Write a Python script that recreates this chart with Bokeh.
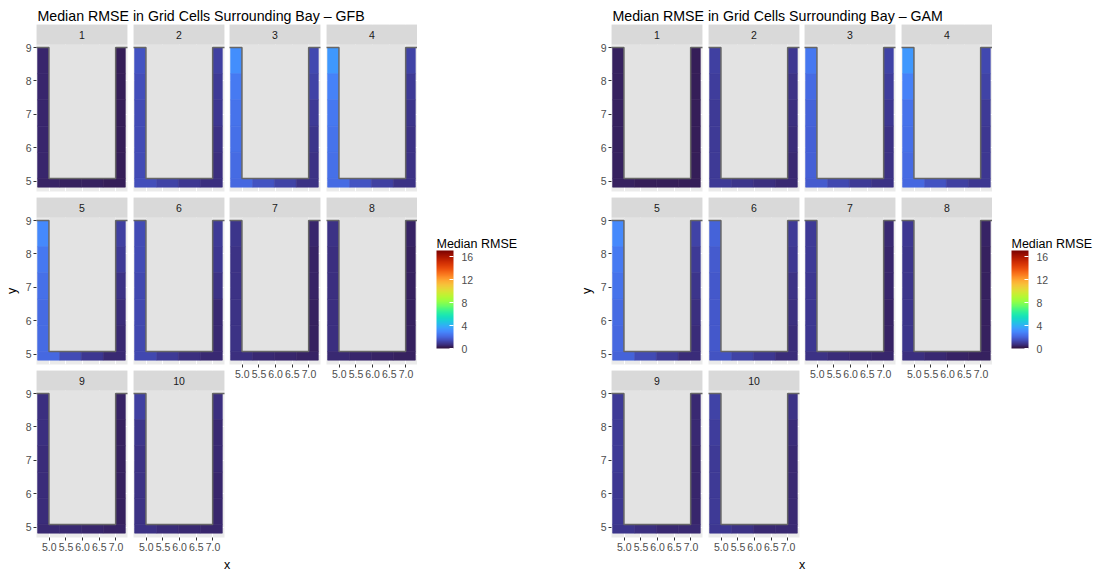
from bokeh.plotting import figure
from bokeh.models import (Range1d, FixedTicker, LinearColorMapper, ColorBar,
                          ColumnDataSource, PrintfTickFormatter, Grid)
from bokeh.layouts import row, column
from bokeh.palettes import Turbo256
from bokeh.embed import file_html
from bokeh.resources import INLINE
from bokeh.core.properties import value

# ---------------- data ----------------
TITLES = ["Median RMSE in Grid Cells Surrounding Bay \u2013 GFB",
          "Median RMSE in Grid Cells Surrounding Bay \u2013 GAM"]
FACETS = list(range(1, 11))
X_TICKS = [5.0, 5.5, 6.0, 6.5, 7.0]
Y_TICKS = [5, 6, 7, 8, 9]
CBAR_TICKS = [0, 4, 8, 12, 16]
LEGEND_TITLE = "Median RMSE"
RMSE_LOW, RMSE_HIGH = 0.0, 17.1

# grid-cell geometry (lon / lat of cells around the bay)
LEFT_COL_X = [4.65, 4.99]
RIGHT_COL_X = [6.99, 7.28]
COL_Y_EDGES = [9.0, 8.22, 7.44, 6.65, 5.87, 5.09]
BOTTOM_Y = [4.83, 5.09]
BOTTOM_X_EDGES = [4.65, 5.31, 5.96, 6.62, 7.28]
# bay outline
BAY_X = [4.3, 4.99, 4.99, 6.99, 6.99, 7.7]
BAY_Y = [9.0, 9.0, 5.09, 5.09, 9.0, 9.0]

# median RMSE per facet: left column (top->bottom), bottom row (left->right),
# right column (top->bottom)
gfb_left = [[0.5, 0.5, 0.5, 0.5, 0.5], [1.55, 1.45, 1.4, 1.35, 1.35],
            [3.1, 2.6, 2.4, 2.3, 2.2], [3.4, 2.8, 2.5, 2.4, 2.3],
            [3.0, 2.5, 2.3, 2.2, 2.2], [1.4, 1.35, 1.3, 1.3, 1.3],
            [0.85, 0.8, 0.8, 0.8, 0.8], [0.75, 0.7, 0.7, 0.7, 0.7],
            [0.7, 0.7, 0.65, 0.65, 0.65], [1.1, 0.85, 0.8, 0.8, 0.8]]
gfb_bottom = [[0.45, 0.4, 0.35, 0.3], [1.45, 1.15, 0.9, 0.7],
              [2.1, 1.6, 1.2, 0.8], [2.2, 1.6, 1.1, 0.8],
              [2.1, 1.4, 0.9, 0.55], [1.3, 1.0, 0.7, 0.55],
              [0.7, 0.6, 0.5, 0.45], [0.6, 0.5, 0.45, 0.4],
              [0.6, 0.55, 0.5, 0.45], [0.75, 0.65, 0.55, 0.5]]
gfb_right = [[0.3, 0.3, 0.3, 0.3, 0.3], [1.1, 1.0, 0.9, 0.8, 0.7],
             [1.3, 1.2, 1.0, 0.85, 0.8], [1.15, 1.0, 0.85, 0.8, 0.75],
             [1.1, 0.95, 0.8, 0.65, 0.55], [1.0, 0.9, 0.75, 0.6, 0.55],
             [0.5, 0.45, 0.45, 0.4, 0.4], [0.45, 0.4, 0.4, 0.35, 0.35],
             [0.45, 0.4, 0.4, 0.4, 0.4], [0.7, 0.6, 0.55, 0.5, 0.5]]

gam_left = [[0.4, 0.4, 0.4, 0.4, 0.4], [1.1, 1.05, 1.0, 1.0, 1.0],
            [2.5, 2.2, 2.0, 1.9, 1.9], [3.4, 2.8, 2.4, 2.3, 2.2],
            [3.0, 2.6, 2.4, 2.2, 2.1], [1.95, 1.8, 1.7, 1.7, 1.7],
            [1.0, 0.95, 0.9, 0.9, 0.9], [0.9, 0.85, 0.85, 0.85, 0.85],
            [1.0, 0.95, 0.95, 0.9, 0.9], [1.2, 1.05, 1.0, 1.0, 1.0]]
gam_bottom = [[0.35, 0.3, 0.3, 0.3], [1.0, 0.85, 0.7, 0.6],
              [1.8, 1.3, 1.0, 0.8], [2.1, 1.6, 1.1, 0.9],
              [2.0, 1.4, 0.95, 0.65], [1.6, 1.2, 0.9, 0.65],
              [0.8, 0.65, 0.55, 0.5], [0.7, 0.55, 0.45, 0.4],
              [0.85, 0.7, 0.6, 0.55], [0.9, 0.75, 0.6, 0.55]]
gam_right = [[0.3, 0.3, 0.3, 0.3, 0.3], [0.9, 0.8, 0.7, 0.65, 0.6],
             [1.2, 1.05, 0.9, 0.8, 0.8], [1.3, 1.15, 1.0, 0.9, 0.9],
             [1.15, 1.0, 0.85, 0.7, 0.65], [1.0, 0.9, 0.8, 0.7, 0.65],
             [0.55, 0.5, 0.5, 0.45, 0.45], [0.45, 0.4, 0.4, 0.4, 0.4],
             [0.6, 0.55, 0.5, 0.5, 0.5], [0.75, 0.65, 0.6, 0.55, 0.55]]

# ---------------- layout constants ----------------
FONT = value("Liberation Sans")
X_RANGE = (4.617, 7.345)
PANEL_Y = (4.70, 9.09)
FRAME_W, PANEL_H, STRIP_H = 91, 147, 20
STRIP_UNITS = STRIP_H * (PANEL_Y[1] - PANEL_Y[0]) / PANEL_H
Y_TOP = PANEL_Y[1] + STRIP_UNITS
GAPS = [6, 5, 6, 0]
ROW_GAP = 6
AXIS_B = 18
AXIS_L = 16
YLAB_W = 20
TITLE_H = 24
GRID_H = 3 * (PANEL_H + STRIP_H) + 2 * ROW_GAP + AXIS_B
XLAB_H = 571 - TITLE_H - GRID_H


def cells(left, bottom, right):
    L, R, B, T, V = [], [], [], [], []
    for k, v in enumerate(left):
        L.append(LEFT_COL_X[0]); R.append(LEFT_COL_X[1])
        T.append(COL_Y_EDGES[k]); B.append(COL_Y_EDGES[k + 1]); V.append(v)
    for k, v in enumerate(bottom):
        L.append(BOTTOM_X_EDGES[k]); R.append(BOTTOM_X_EDGES[k + 1])
        B.append(BOTTOM_Y[0]); T.append(BOTTOM_Y[1]); V.append(v)
    for k, v in enumerate(right):
        L.append(RIGHT_COL_X[0]); R.append(RIGHT_COL_X[1])
        T.append(COL_Y_EDGES[k]); B.append(COL_Y_EDGES[k + 1]); V.append(v)
    return ColumnDataSource(dict(left=L, right=R, bottom=B, top=T, v=V))


def style_axis(ax):
    ax.axis_line_color = None
    ax.major_tick_line_color = "#333333"
    ax.major_tick_in = 0
    ax.major_tick_out = 3
    ax.minor_tick_line_color = None
    ax.major_label_text_font_size = "10.5px"
    ax.major_label_text_color = "#4D4D4D"
    ax.major_label_text_font = "Liberation Sans"
    ax.major_label_standoff = 2


def make_facet(n, left, bottom, right, col, show_y, show_x, mapper):
    p = figure(frame_width=FRAME_W, frame_height=PANEL_H + STRIP_H,
               x_range=Range1d(*X_RANGE), y_range=Range1d(PANEL_Y[0], Y_TOP),
               output_backend="svg", toolbar_location=None,
               x_axis_location="below" if show_x else None,
               y_axis_location="left" if show_y else None,
               min_border_left=AXIS_L if show_y else 0,
               min_border_right=GAPS[col], min_border_top=0,
               min_border_bottom=AXIS_B if show_x else ROW_GAP,
               background_fill_color="#EBEBEB", border_fill_color="white",
               outline_line_color=None)
    p.xgrid.visible = False
    p.ygrid.visible = False
    p.add_layout(Grid(dimension=0, ticker=FixedTicker(ticks=X_TICKS),
                      grid_line_color="white", grid_line_width=1.1))
    p.add_layout(Grid(dimension=1, ticker=FixedTicker(ticks=Y_TICKS),
                      grid_line_color="white", grid_line_width=1.1))
    if show_y:
        ax = p.yaxis[0]
        ax.ticker = FixedTicker(ticks=Y_TICKS)
        style_axis(ax)
    if show_x:
        ax = p.xaxis[0]
        ax.ticker = FixedTicker(ticks=X_TICKS)
        ax.formatter = PrintfTickFormatter(format="%.1f")
        style_axis(ax)

    src = cells(left, bottom, right)
    p.quad(left="left", right="right", bottom="bottom", top="top", source=src,
           fill_color={"field": "v", "transform": mapper},
           line_color={"field": "v", "transform": mapper}, line_width=0.6)
    # bay interior and outline
    p.quad(left=[BAY_X[1]], right=[BAY_X[3]], bottom=[BAY_Y[2]], top=[PANEL_Y[1]],
           fill_color="#E3E3E3", line_color=None)
    p.line(BAY_X, BAY_Y, line_color="#666666", line_width=1.5)
    # strip
    p.quad(left=[X_RANGE[0]], right=[X_RANGE[1]], bottom=[PANEL_Y[1]], top=[Y_TOP],
           fill_color="#D9D9D9", line_color=None)
    p.text(x=[(X_RANGE[0] + X_RANGE[1]) / 2], y=[(PANEL_Y[1] + Y_TOP) / 2],
           text=[str(n)], text_align="center", text_baseline="middle",
           text_font_size="10.5px", text_color="#1A1A1A", text_font=FONT)
    return p


def blank(w, h):
    p = figure(width=w, height=h, x_range=Range1d(0, w), y_range=Range1d(0, h),
               output_backend="svg", toolbar_location=None,
               x_axis_location=None, y_axis_location=None,
               min_border_left=0, min_border_right=0, min_border_top=0,
               min_border_bottom=0, outline_line_color=None,
               background_fill_color="white", border_fill_color="white")
    p.xgrid.visible = False
    p.ygrid.visible = False
    return p


def make_chart(title, left_vals, bottom_vals, right_vals, total_w):
    mapper = LinearColorMapper(palette=Turbo256, low=RMSE_LOW, high=RMSE_HIGH)
    cols = [[], [], [], []]
    for i, n in enumerate(FACETS):
        r, c = divmod(i, 4)
        last_in_col = (i + 4) >= len(FACETS)
        f = make_facet(n, left_vals[i], bottom_vals[i], right_vals[i], c,
                       show_y=(c == 0), show_x=last_in_col, mapper=mapper)
        cols[c].append(f)
    grid_w = YLAB_W + sum(AXIS_L * (c == 0) + FRAME_W + GAPS[c] for c in range(4))
    legend_w = total_w - grid_w

    # title
    tf = blank(total_w, TITLE_H)
    tf.text(x=[37], y=[TITLE_H - 15], text=[title], text_align="left",
            text_baseline="alphabetic", text_font_size="14.2px",
            text_color="black", text_font=FONT)
    # y label
    yf = blank(YLAB_W, GRID_H)
    yf.text(x=[11.5], y=[GRID_H - (290.5 - TITLE_H)], text=["y"], angle=1.5708,
            text_align="center", text_baseline="middle",
            text_font_size="12.5px", text_color="black", text_font=FONT)
    # x label
    xf = blank(total_w, XLAB_H)
    xf.text(x=[226.5], y=[6.5], text=["x"], text_align="center",
            text_baseline="alphabetic", text_font_size="12.5px",
            text_color="black", text_font=FONT)
    # legend
    lf = blank(legend_w, GRID_H)
    lf.text(x=[19], y=[TITLE_H + GRID_H - 243], text=[LEGEND_TITLE],
            text_align="left", text_baseline="alphabetic",
            text_font_size="12.5px", text_color="black", text_font=FONT)
    cb = ColorBar(color_mapper=mapper, location=(19, TITLE_H + GRID_H - 348),
                  width=17, height=98, padding=0,
                  ticker=FixedTicker(ticks=CBAR_TICKS),
                  major_label_text_font_size="10.5px",
                  major_label_text_font="Liberation Sans",
                  major_label_text_color="#4D4D4D",
                  major_tick_line_color="white", major_tick_in=4,
                  major_tick_out=0, minor_tick_line_color=None,
                  label_standoff=8, bar_line_color=None,
                  background_fill_color=None, border_line_color=None)
    lf.add_layout(cb)

    grid = row(yf, column(*cols[0]), column(*cols[1]), column(*cols[2]),
               column(*cols[3]), lf)
    return column(tf, grid, xf)


left_chart = make_chart(TITLES[0], gfb_left, gfb_bottom, gfb_right, 575)
right_chart = make_chart(TITLES[1], gam_left, gam_bottom, gam_right, 521)
page = row(left_chart, right_chart)

open("out.html", "w").write(file_html(page, INLINE))
